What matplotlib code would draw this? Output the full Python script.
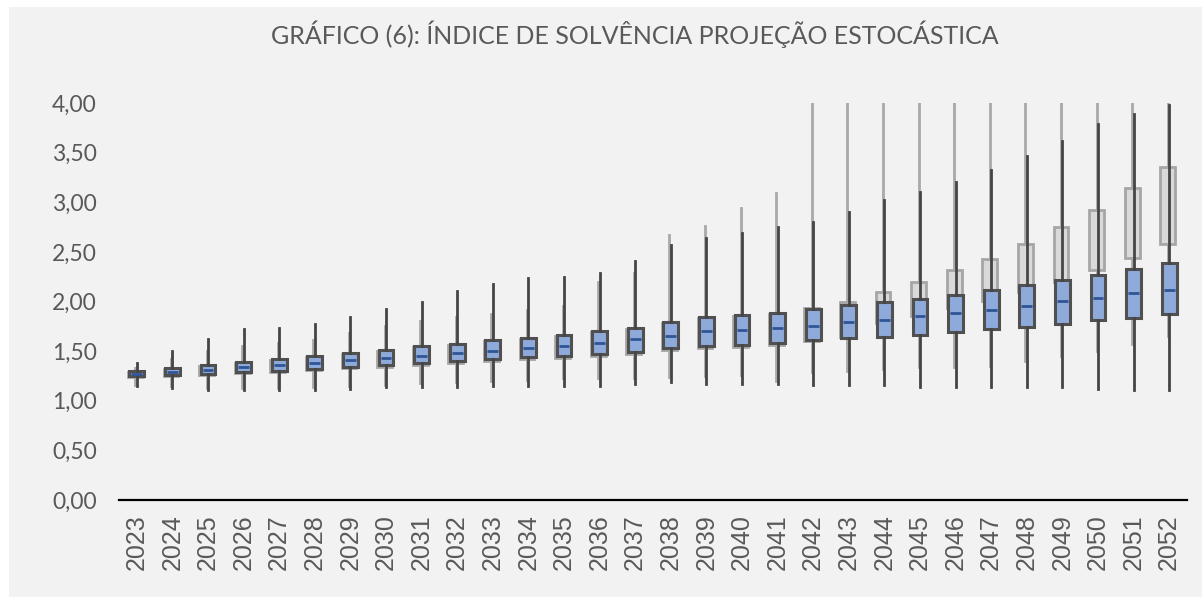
import matplotlib
matplotlib.use("Agg")
import matplotlib.pyplot as plt
from matplotlib.patches import Rectangle
import numpy as np

years = [str(y) for y in range(2023, 2053)]

blue_whishi = [1.38, 1.50, 1.62, 1.72, 1.73, 1.77, 1.84, 1.92, 2.00, 2.11, 2.18, 2.24, 2.25, 2.29, 2.41,
               2.57, 2.64, 2.69, 2.75, 2.80, 2.90, 3.02, 3.10, 3.20, 3.32, 3.47, 3.62, 3.79, 3.89, 3.98]
blue_q3 = [1.30, 1.33, 1.36, 1.39, 1.42, 1.45, 1.48, 1.51, 1.55, 1.57, 1.61, 1.63, 1.66, 1.70, 1.73,
           1.79, 1.84, 1.86, 1.88, 1.92, 1.96, 2.00, 2.03, 2.07, 2.12, 2.17, 2.22, 2.27, 2.33, 2.39]
blue_med = [1.27, 1.29, 1.31, 1.34, 1.36, 1.38, 1.41, 1.43, 1.45, 1.48, 1.50, 1.53, 1.55, 1.58, 1.62,
            1.65, 1.70, 1.71, 1.73, 1.75, 1.79, 1.81, 1.85, 1.88, 1.91, 1.95, 2.01, 2.04, 2.09, 2.12]
blue_q1 = [1.25, 1.26, 1.27, 1.29, 1.30, 1.32, 1.34, 1.36, 1.38, 1.40, 1.42, 1.44, 1.45, 1.47, 1.49,
           1.53, 1.55, 1.56, 1.58, 1.61, 1.63, 1.64, 1.66, 1.69, 1.72, 1.74, 1.77, 1.81, 1.83, 1.87]
blue_whislo = [1.15, 1.13, 1.11, 1.11, 1.11, 1.11, 1.12, 1.14, 1.14, 1.14, 1.15, 1.15, 1.15, 1.15, 1.17,
               1.19, 1.17, 1.17, 1.17, 1.16, 1.16, 1.16, 1.14, 1.14, 1.14, 1.14, 1.14, 1.12, 1.11, 1.11]

grey_whishi = [1.33, 1.42, 1.50, 1.55, 1.58, 1.61, 1.68, 1.75, 1.80, 1.84, 1.87, 1.91, 1.95, 2.20, 2.29,
               2.67, 2.76, 2.94, 3.09, 4.00, 4.00, 4.00, 4.00, 4.00, 4.00, 4.00, 4.00, 4.00, 4.00, 4.00]
grey_q3 = [1.29, 1.32, 1.35, 1.38, 1.41, 1.44, 1.47, 1.50, 1.54, 1.56, 1.60, 1.62, 1.65, 1.69, 1.72,
           1.78, 1.83, 1.85, 1.87, 1.93, 2.00, 2.10, 2.20, 2.32, 2.43, 2.58, 2.75, 2.92, 3.14, 3.36]
grey_q1 = [1.235, 1.245, 1.255, 1.275, 1.285, 1.305, 1.325, 1.345, 1.365, 1.385, 1.405, 1.425, 1.435,
           1.455, 1.475, 1.515, 1.535, 1.545, 1.565, 1.60, 1.64, 1.78, 1.85, 1.93, 2.01, 2.10, 2.20,
           2.32, 2.44, 2.58]
grey_whislo = [1.16, 1.15, 1.13, 1.13, 1.13, 1.14, 1.15, 1.16, 1.18, 1.19, 1.20, 1.21, 1.23, 1.23, 1.23,
               1.24, 1.25, 1.26, 1.20, 1.29, 1.30, 1.32, 1.34, 1.34, 1.35, 1.40, 1.45, 1.50, 1.57, 1.65]

W, H = 1202, 597
fig = plt.figure(figsize=(W / 100, H / 100), dpi=100, facecolor="white")
fig.patches.append(Rectangle((9 / W, 0), 1 - 9 / W, (H - 7) / H, transform=fig.transFigure,
                             facecolor="#f2f2f2", edgecolor="none", zorder=-10))

ax = fig.add_axes([119 / W, (H - 500) / H, (1187 - 119) / W, (500 - 103) / H])
ax.set_facecolor("none")

x = np.arange(len(years))

grey_stats = [dict(med=np.nan, q1=a, q3=b, whislo=c, whishi=d, fliers=[])
              for a, b, c, d in zip(grey_q1, grey_q3, grey_whislo, grey_whishi)]
blue_stats = [dict(med=m, q1=a, q3=b, whislo=c, whishi=d, fliers=[])
              for m, a, b, c, d in zip(blue_med, blue_q1, blue_q3, blue_whislo, blue_whishi)]

ax.bxp(grey_stats, positions=x - 0.04, widths=0.42, patch_artist=True, showcaps=False,
       showfliers=False, manage_ticks=False,
       boxprops=dict(facecolor="#d9d9d9", edgecolor="#a6a6a6", linewidth=2.0),
       whiskerprops=dict(color="#a9a9a9", linewidth=2.0),
       medianprops=dict(linewidth=0))

ax.bxp(blue_stats, positions=x, widths=0.42, patch_artist=True, showcaps=False,
       showfliers=False, manage_ticks=False,
       boxprops=dict(facecolor="#8eaadb", edgecolor="#505050", linewidth=2.2),
       whiskerprops=dict(color="#454545", linewidth=2.0),
       medianprops=dict(linewidth=0))
ax.hlines(blue_med, x - 0.15, x + 0.15, colors="#2f5597", linewidth=2.0, zorder=5)

ax.set_xlim(-0.5, len(years) - 0.5)
ax.set_ylim(0, 4.0)
ax.set_yticks(np.arange(0, 4.01, 0.5))
ax.set_yticklabels([f"{v:.2f}".replace(".", ",") for v in np.arange(0, 4.01, 0.5)],
                   fontfamily="Lato", fontsize=16.5, color="#595959")
ax.set_xticks(x)
ax.set_xticklabels(years, rotation=90, fontfamily="Liberation Sans", fontsize=18, color="#595959")
ax.tick_params(axis="y", length=0, pad=16)
ax.tick_params(axis="x", length=0, pad=10)
for s in ["left", "right", "top"]:
    ax.spines[s].set_visible(False)
ax.spines["bottom"].set_color("#000000")
ax.spines["bottom"].set_linewidth(1.6)
ax.spines["bottom"].set_zorder(10)

fig.text(635 / W, 1 - 34 / H, "GRÁFICO (6): ÍNDICE DE SOLVÊNCIA PROJEÇÃO ESTOCÁSTICA",
         ha="center", va="center", fontfamily="Lato", fontsize=18, color="#595959")

fig.savefig("out.png", dpi=100, facecolor="white")
